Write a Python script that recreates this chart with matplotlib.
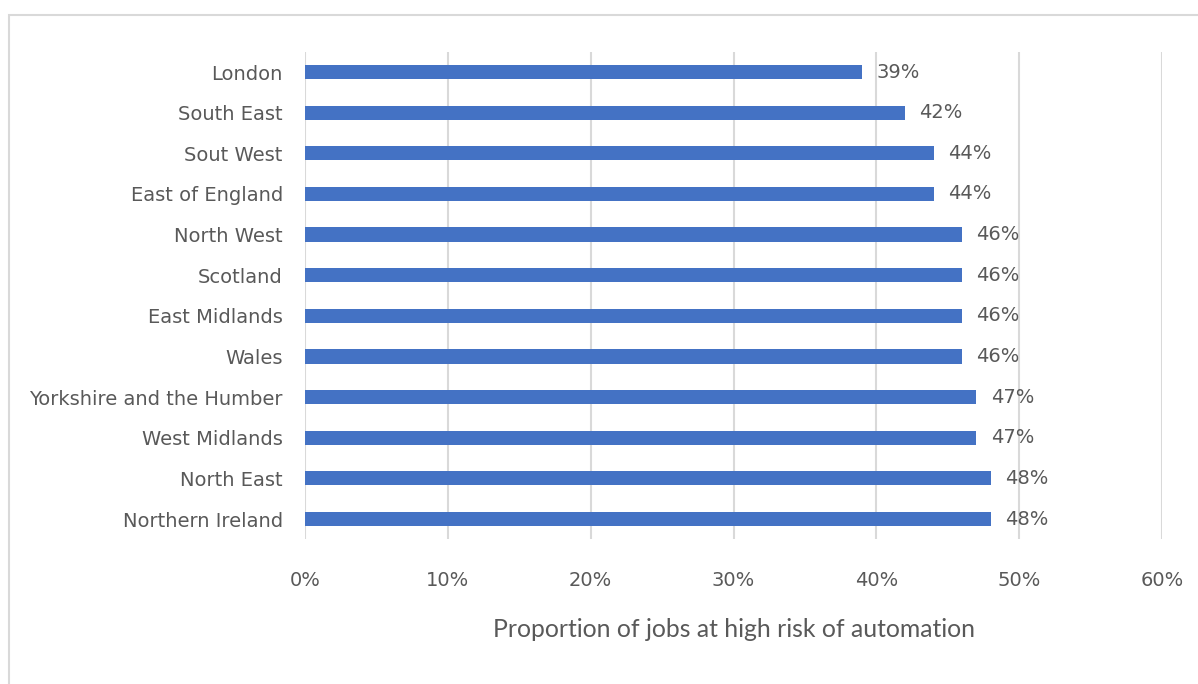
import matplotlib
matplotlib.use("Agg")
import matplotlib.pyplot as plt
from matplotlib.patches import Rectangle

regions = ["London", "South East", "Sout West", "East of England", "North West",
           "Scotland", "East Midlands", "Wales", "Yorkshire and the Humber",
           "West Midlands", "North East", "Northern Ireland"]
share = [39, 42, 44, 44, 46, 46, 46, 46, 47, 47, 48, 48]
xticks = [0, 10, 20, 30, 40, 50, 60]

narrow = ["DejaVu Sans"]
grey = "#595959"

fig = plt.figure(figsize=(11.98, 6.84), dpi=100)
ax = fig.add_axes([0.2546, 0.2115, 0.7154, 0.7129])

ypos = list(range(len(regions)))
ax.barh(ypos, share, height=0.35, color="#4472C4", zorder=3)
for y, v in zip(ypos, share):
    ax.text(v + 1.0, y, f"{v}%", va="center", ha="left", fontsize=14,
            family=narrow, color=grey)

ax.set_ylim(len(regions) - 0.5, -0.5)
ax.set_xlim(0, 60)
ax.set_yticks(ypos)
ax.set_yticklabels(regions, family=narrow, fontsize=14, color=grey)
ax.set_xticks(xticks)
ax.set_xticklabels([f"{t}%" for t in xticks], family=narrow, fontsize=14, color=grey)
ax.tick_params(axis="both", length=0)
ax.tick_params(axis="x", pad=23)
ax.tick_params(axis="y", pad=16)
ax.xaxis.grid(True, color="#d9d9d9", linewidth=1.5, zorder=0)
for s in ax.spines.values():
    s.set_visible(False)
ax.set_xlabel("Proportion of jobs at high risk of automation", fontsize=17.8,
              family=["Lato", "DejaVu Sans"], color=grey, labelpad=20)

fig.patches.append(Rectangle((9 / 1198, -0.1), 1.2, 1 - 15 / 684 + 0.1,
                             transform=fig.transFigure, fill=False,
                             edgecolor="#d9d9d9", linewidth=1.5))

fig.savefig("out.png", dpi=100)
